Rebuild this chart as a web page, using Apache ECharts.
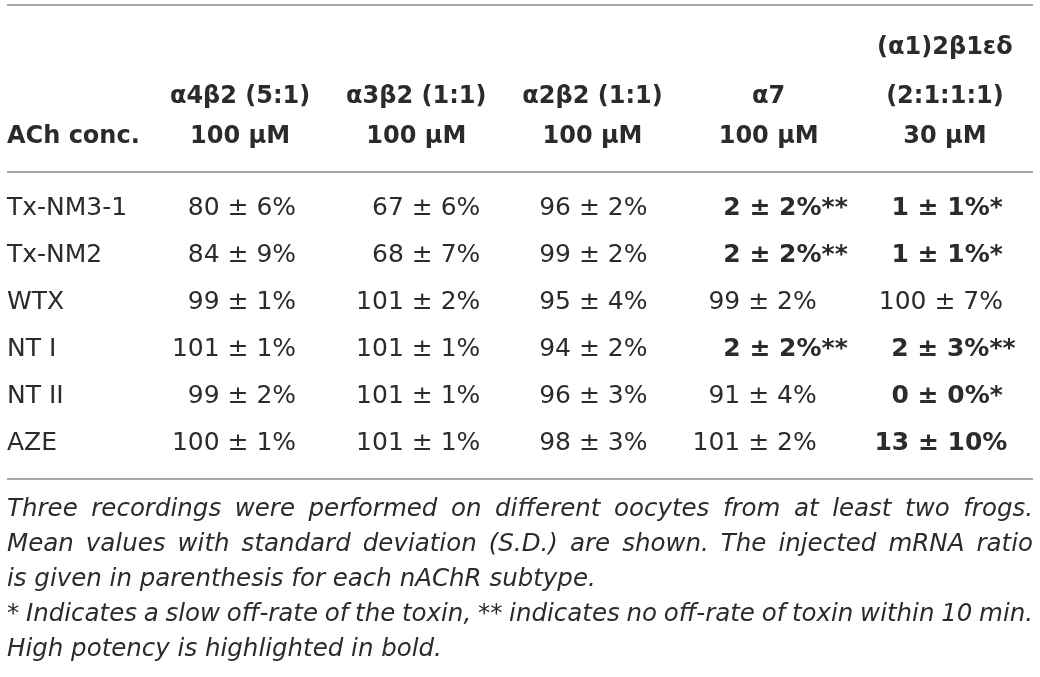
<!DOCTYPE html>
<html>
<head>
<meta charset="utf-8">
<script src="https://cdn.jsdelivr.net/npm/echarts@6/dist/echarts.min.js"></script>
<style>
html,body{margin:0;padding:0;background:#ffffff;}
#chart{width:1040px;height:677px;}
</style>
</head>
<body>
<div id="chart"></div>
<script>
// ---------- data ----------
const toxins = ['Tx-NM3-1', 'Tx-NM2', 'WTX', 'NT I', 'NT II', 'AZE'];
const subtypeTop = ['', '', '', '', '(α1)2β1εδ'];
const subtypes = ['α4β2 (5:1)', 'α3β2 (1:1)', 'α2β2 (1:1)', 'α7', '(2:1:1:1)'];
const achConc = ['100 μM', '100 μM', '100 μM', '100 μM', '30 μM'];
const concLabel = 'ACh conc.';

const a4b2Mean = [80, 84, 99, 101, 99, 100];
const a4b2SD   = [6, 9, 1, 1, 2, 1];
const a3b2Mean = [67, 68, 101, 101, 101, 101];
const a3b2SD   = [6, 7, 2, 1, 1, 1];
const a2b2Mean = [96, 99, 95, 94, 96, 98];
const a2b2SD   = [2, 2, 4, 2, 3, 3];
const a7Mean   = [2, 2, 99, 2, 91, 101];
const a7SD     = [2, 2, 2, 2, 4, 2];
const a7Stars  = ['**', '**', '', '**', '', ''];
const a7Bold   = [true, true, false, true, false, false];
const a1Mean   = [1, 1, 100, 2, 0, 13];
const a1SD     = [1, 1, 7, 3, 0, 10];
const a1Stars  = ['*', '*', '', '**', '*', ''];
const a1Bold   = [true, true, false, true, true, true];

const footnotes = [
  'Three recordings were performed on different oocytes from at least two frogs.',
  'Mean values with standard deviation (S.D.) are shown. The injected mRNA ratio',
  'is given in parenthesis for each nAChR subtype.',
  '* Indicates a slow off-rate of the toxin, ** indicates no off-rate of toxin within 10 min.',
  'High potency is highlighted in bold.'
];
const footJustify = [true, true, false, true, false];

// ---------- layout / style ----------
const FONT = 'DejaVu Sans';
const INK = '#2b2b2b';
const RULE = '#8a8a8a';
const FS = 25;
const HFS = 24;
const NFS = 24.5;
const STAR_W = 12.5;
const LEFT_X = 7, RIGHT_X = 1033;
const GRID = { left: 152, right: 7, top: 184.5, height: 282 };

const cols = [
  { mean: a4b2Mean, sd: a4b2SD, align: 'right', dx: 56 },
  { mean: a3b2Mean, sd: a3b2SD, align: 'right', dx: 64 },
  { mean: a2b2Mean, sd: a2b2SD, align: 'right', dx: 55 },
  { mean: a7Mean, sd: a7SD, stars: a7Stars, bold: a7Bold, align: 'right', dx: 48, dxBold: 54 },
  { mean: a1Mean, sd: a1SD, stars: a1Stars, bold: a1Bold, align: 'center', dx: -4, dxBold: -4 }
];

const series = cols.map((c, ci) => ({
  type: 'scatter',
  symbolSize: 0,
  silent: true,
  itemStyle: { opacity: 1 },
  data: c.mean.map((m, ri) => {
    const bold = c.bold ? c.bold[ri] : false;
    const stars = c.stars ? c.stars[ri] : '';
    const starW = stars.length * STAR_W;
    let dx = bold ? c.dxBold : c.dx;
    dx += c.align === 'right' ? starW : starW / 2;
    return {
      value: [ci, ri],
      label: {
        show: true,
        position: 'inside',
        align: c.align,
        verticalAlign: 'middle',
        offset: [dx, 0],
        formatter: m + ' ± ' + c.sd[ri] + '%' + stars,
        fontFamily: FONT,
        fontSize: FS,
        fontWeight: bold ? 'bold' : 'normal',
        color: INK,
        opacity: 1
      }
    };
  })
}));

// justify helper for footnote lines
const measureCtx = document.createElement('canvas').getContext('2d');
function footText(line, justify) {
  if (!justify) return { text: line, gap: 0 };
  measureCtx.font = 'italic normal ' + NFS + 'px "' + FONT + '"';
  const words = line.split(' ');
  const total = words.reduce((s, w) => s + measureCtx.measureText(w).width, 0);
  const gap = Math.max(2, (RIGHT_X - LEFT_X - total) / (words.length - 1));
  return { text: words.join('{g| }'), gap: gap };
}

const footY0 = 510, footDY = 35;
const graphics = [
  { type: 'line', shape: { x1: LEFT_X, y1: 5, x2: RIGHT_X, y2: 5 }, style: { stroke: RULE, lineWidth: 1.5 }, silent: true },
  { type: 'line', shape: { x1: LEFT_X, y1: 172, x2: RIGHT_X, y2: 172 }, style: { stroke: RULE, lineWidth: 1.5 }, silent: true },
  { type: 'line', shape: { x1: LEFT_X, y1: 479, x2: RIGHT_X, y2: 479 }, style: { stroke: RULE, lineWidth: 1.5 }, silent: true },
  { type: 'text', x: LEFT_X, y: 137, style: { text: concLabel, fontFamily: FONT, fontSize: HFS, fontWeight: 'bold', fill: INK, align: 'left', verticalAlign: 'middle' }, silent: true }
];
footnotes.forEach((line, i) => {
  const ft = footText(line, footJustify[i]);
  graphics.push({
    type: 'text', x: LEFT_X, y: footY0 + i * footDY, silent: true,
    style: {
      text: ft.text, fontFamily: FONT, fontSize: NFS, fontStyle: 'italic', fontWeight: 'normal',
      fill: INK, align: 'left', verticalAlign: 'middle',
      rich: { g: { width: ft.gap, fontFamily: FONT, fontSize: NFS, fontStyle: 'italic' } }
    }
  });
});

const headRich = {
  t: { lineHeight: 58, fontFamily: FONT, fontSize: HFS, fontWeight: 'bold', color: INK, align: 'center' },
  s: { lineHeight: 40, fontFamily: FONT, fontSize: HFS, fontWeight: 'bold', color: INK, align: 'center' },
  c: { lineHeight: 40, fontFamily: FONT, fontSize: HFS, fontWeight: 'bold', color: INK, align: 'center' }
};

const option = {
  backgroundColor: '#ffffff',
  animation: false,
  grid: { left: GRID.left, right: GRID.right, top: GRID.top, height: GRID.height, containLabel: false },
  xAxis: {
    type: 'category',
    position: 'top',
    data: subtypes,
    axisLine: { show: false },
    axisTick: { show: false },
    splitLine: { show: false },
    axisLabel: {
      interval: 0,
      margin: 28,
      formatter: (v, i) => '{t|' + (subtypeTop[i] || ' ') + '}\n{s|' + subtypes[i] + '}\n{c|' + achConc[i] + '}',
      rich: headRich
    }
  },
  yAxis: {
    type: 'category',
    inverse: true,
    data: toxins,
    axisLine: { show: false },
    axisTick: { show: false },
    splitLine: { show: false },
    axisLabel: {
      interval: 0,
      align: 'left',
      margin: GRID.left - LEFT_X,
      fontFamily: FONT,
      fontSize: FS,
      fontWeight: 'normal',
      color: INK
    }
  },
  graphic: graphics,
  series: series
};

const chart = echarts.init(document.getElementById('chart'), null, { renderer: 'canvas' });
chart.setOption(option);
</script>
</body>
</html>
